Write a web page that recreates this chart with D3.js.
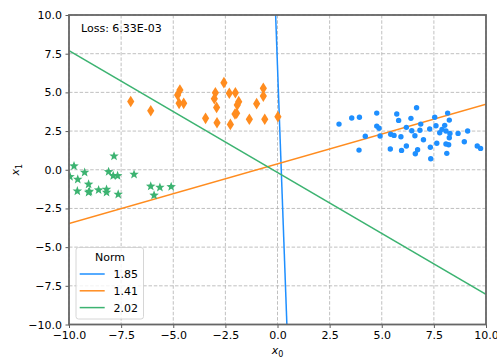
<!DOCTYPE html>
<html>
<head>
<meta charset="utf-8">
<script src="https://cdn.jsdelivr.net/npm/d3@7"></script>
<style>
  body { margin: 0; background: #fff; }
  text { font-family: "DejaVu Sans", sans-serif; fill: #000; }
</style>
</head>
<body>
<svg id="chart" width="497" height="358"></svg>
<script>
// Class 0 samples (circles)
const class0X = [2.95, 3.56, 3.93, 3.91, 4.76, 4.76, 4.87, 4.21, 4.92, 5.72, 5.81, 6.67, 6.40, 6.18,
  5.43, 5.59, 5.92, 6.44, 6.59, 6.87, 6.83, 7.00, 5.41, 5.95, 6.18, 6.72, 6.61, 7.33, 7.35, 7.64,
  7.30, 7.60, 7.54, 8.16, 8.24, 7.78, 7.89, 8.02, 8.08, 8.24, 8.27, 8.08, 8.21, 8.12, 8.66, 8.96,
  9.12, 9.58, 9.74];
const class0Y = [2.95, 3.34, 3.39, 1.27, 3.66, 2.82, 2.68, 2.16, 2.18, 3.60, 3.19, 4.01, 3.32, 2.74,
  2.29, 2.22, 2.13, 2.52, 2.20, 2.95, 2.55, 1.94, 1.34, 1.25, 1.53, 1.29, 1.03, 1.45, 0.71, 1.71,
  2.63, 2.84, 3.39, 3.66, 3.21, 2.39, 2.61, 2.87, 2.50, 2.07, 2.35, 1.66, 1.62, 1.06, 2.35, 1.81,
  2.50, 1.53, 1.38];

// Class 1 samples (thin diamonds)
const class1X = [-7.04, -6.08, -4.68, -4.79, -4.72, -4.50, -3.45, -2.57, -2.98, -3.03, -2.92, -2.90,
  -2.31, -2.02, -1.86, -1.93, -2.04, -1.96, -2.26, -1.35, -1.00, -0.68, -0.68, -0.61, 0.02];
const class1Y = [4.41, 3.81, 5.15, 4.83, 4.29, 4.29, 3.32, 5.63, 4.98, 4.59, 4.03, 3.04,
  4.94, 4.98, 4.40, 4.18, 3.60, 3.65, 2.93, 3.26, 4.27, 5.26, 4.76, 3.26, 3.43];

// Class 2 samples (stars)
const class2X = [-9.76, -9.95, -9.58, -9.25, -9.60, -9.06, -9.06, -9.02, -8.58, -8.20, -8.20, -8.10,
  -7.84, -7.88, -7.67, -7.64, -6.88, -6.08, -5.64, -5.10, -5.92];
const class2Y = [0.24, -0.45, -0.62, -0.17, -1.38, -0.94, -1.46, -1.40, -1.31, -1.27, -1.46, -0.13,
  0.88, -0.39, -0.39, -1.59, -0.30, -1.07, -1.14, -1.10, -1.65];

// Decision boundaries: endpoints in data coordinates, and weight norms for the legend
const boundaryNorms = ["1.85", "1.41", "2.02"];
const boundaryX0 = [[-0.09, 0.45], [-10, 10], [-10, 10]];
const boundaryX1 = [[10, -10], [-3.47, 4.23], [7.70, -8.05]];

const tickValues = [-10, -7.5, -5, -2.5, 0, 2.5, 5, 7.5, 10];
const lossText = "Loss: 6.33E-03";

const colors = ["#1e8fff", "#ff8c1f", "#3cb371"];

const W = 497, H = 358;
const margin = { left: 69, right: 11, top: 15, bottom: 33.5 };
const svg = d3.select("#chart");

const x = d3.scaleLinear().domain([-10, 10]).range([margin.left, W - margin.right]);
const y = d3.scaleLinear().domain([-10, 10]).range([H - margin.bottom, margin.top]);

const fmt = v => d3.format(".1f")(v).replace("-", "\u2212");

svg.append("defs").append("clipPath").attr("id", "plotClip")
  .append("rect")
  .attr("x", x(-10)).attr("y", y(10))
  .attr("width", x(10) - x(-10)).attr("height", y(-10) - y(10));

// Grid
const grid = svg.append("g").attr("stroke", "#b0b0b0").attr("stroke-width", 0.8)
  .attr("stroke-dasharray", "3.5,1.8");
grid.selectAll("line.gx").data(tickValues).join("line").attr("class", "gx")
  .attr("x1", d => x(d)).attr("x2", d => x(d)).attr("y1", y(10)).attr("y2", y(-10));
grid.selectAll("line.gy").data(tickValues).join("line").attr("class", "gy")
  .attr("y1", d => y(d)).attr("y2", d => y(d)).attr("x1", x(-10)).attr("x2", x(10));

// Boundaries
const plot = svg.append("g").attr("clip-path", "url(#plotClip)");
const lineGen = d3.line().x(d => x(d[0])).y(d => y(d[1]));
boundaryNorms.forEach((n, i) => {
  const pts = boundaryX0[i].map((v, k) => [v, boundaryX1[i][k]]);
  plot.append("path").attr("d", lineGen(pts))
    .attr("fill", "none").attr("stroke", colors[i]).attr("stroke-width", 1.5);
});

// Markers
function starPath(ro, ri) {
  const p = [];
  for (let k = 0; k < 10; k++) {
    const r = k % 2 === 0 ? ro : ri;
    const a = -Math.PI / 2 + k * Math.PI / 5;
    p.push([r * Math.cos(a), r * Math.sin(a)]);
  }
  return "M" + p.map(q => q[0].toFixed(2) + "," + q[1].toFixed(2)).join("L") + "Z";
}
const diamondPath = "M0,-5.8L3.6,0L0,5.8L-3.6,0Z";
const star = starPath(5, 2.1);

plot.append("g").selectAll("circle").data(class0X.map((v, i) => [v, class0Y[i]])).join("circle")
  .attr("cx", d => x(d[0])).attr("cy", d => y(d[1])).attr("r", 2.7)
  .attr("fill", colors[0]);
plot.append("g").selectAll("path").data(class1X.map((v, i) => [v, class1Y[i]])).join("path")
  .attr("d", diamondPath).attr("transform", d => `translate(${x(d[0])},${y(d[1])})`)
  .attr("fill", colors[1]);
plot.append("g").selectAll("path").data(class2X.map((v, i) => [v, class2Y[i]])).join("path")
  .attr("d", star).attr("transform", d => `translate(${x(d[0])},${y(d[1])})`)
  .attr("fill", colors[2]);

// Axes
const xAxis = svg.append("g").attr("transform", `translate(0,${y(-10)})`)
  .call(d3.axisBottom(x).tickValues(tickValues).tickFormat(fmt).tickSizeOuter(0).tickSize(3.5).tickPadding(3.5));
const yAxis = svg.append("g").attr("transform", `translate(${x(-10)},0)`)
  .call(d3.axisLeft(y).tickValues(tickValues).tickFormat(fmt).tickSizeOuter(0).tickSize(3.5).tickPadding(3.5));
[xAxis, yAxis].forEach(a => {
  a.select(".domain").remove();
  a.selectAll(".tick line").attr("stroke", "#333").attr("stroke-width", 0.8);
  a.selectAll(".tick text").attr("font-size", 11).attr("font-family", "DejaVu Sans").attr("fill", "#000");
});

// Frame
svg.append("rect")
  .attr("x", x(-10)).attr("y", y(10))
  .attr("width", x(10) - x(-10)).attr("height", y(-10) - y(10))
  .attr("fill", "none").attr("stroke", "#666").attr("stroke-width", 1.8);

// Axis labels
const xl = svg.append("text").attr("x", (x(-10) + x(10)) / 2).attr("y", 354)
  .attr("text-anchor", "middle").attr("font-size", 11);
xl.append("tspan").attr("font-style", "italic").text("x");
xl.append("tspan").attr("font-size", 8).attr("dy", 2.5).text("0");

const yl = svg.append("text")
  .attr("transform", `translate(19,${(y(-10) + y(10)) / 2}) rotate(-90)`)
  .attr("text-anchor", "middle").attr("font-size", 11);
yl.append("tspan").attr("font-style", "italic").text("x");
yl.append("tspan").attr("font-size", 8).attr("dy", 2.5).text("1");

// Loss annotation
svg.append("text").attr("x", 81).attr("y", 31.5).attr("font-size", 11).text(lossText);

// Legend
const lg = svg.append("g").attr("transform", "translate(76,247.5)");
lg.append("rect").attr("width", 67.5).attr("height", 71.5).attr("rx", 2.5)
  .attr("fill", "#fff").attr("fill-opacity", 0.8).attr("stroke", "#ccc").attr("stroke-width", 0.8);
lg.append("text").attr("x", 34).attr("y", 13.5).attr("text-anchor", "middle")
  .attr("font-size", 11).text("Norm");
boundaryNorms.forEach((n, i) => {
  const yy = 26.5 + i * 16.8;
  lg.append("line").attr("x1", 3.7).attr("x2", 28.7).attr("y1", yy).attr("y2", yy)
    .attr("stroke", colors[i]).attr("stroke-width", 1.5);
  lg.append("text").attr("x", 37.5).attr("y", yy + 4).attr("font-size", 11).text(n);
});
</script>
</body>
</html>
